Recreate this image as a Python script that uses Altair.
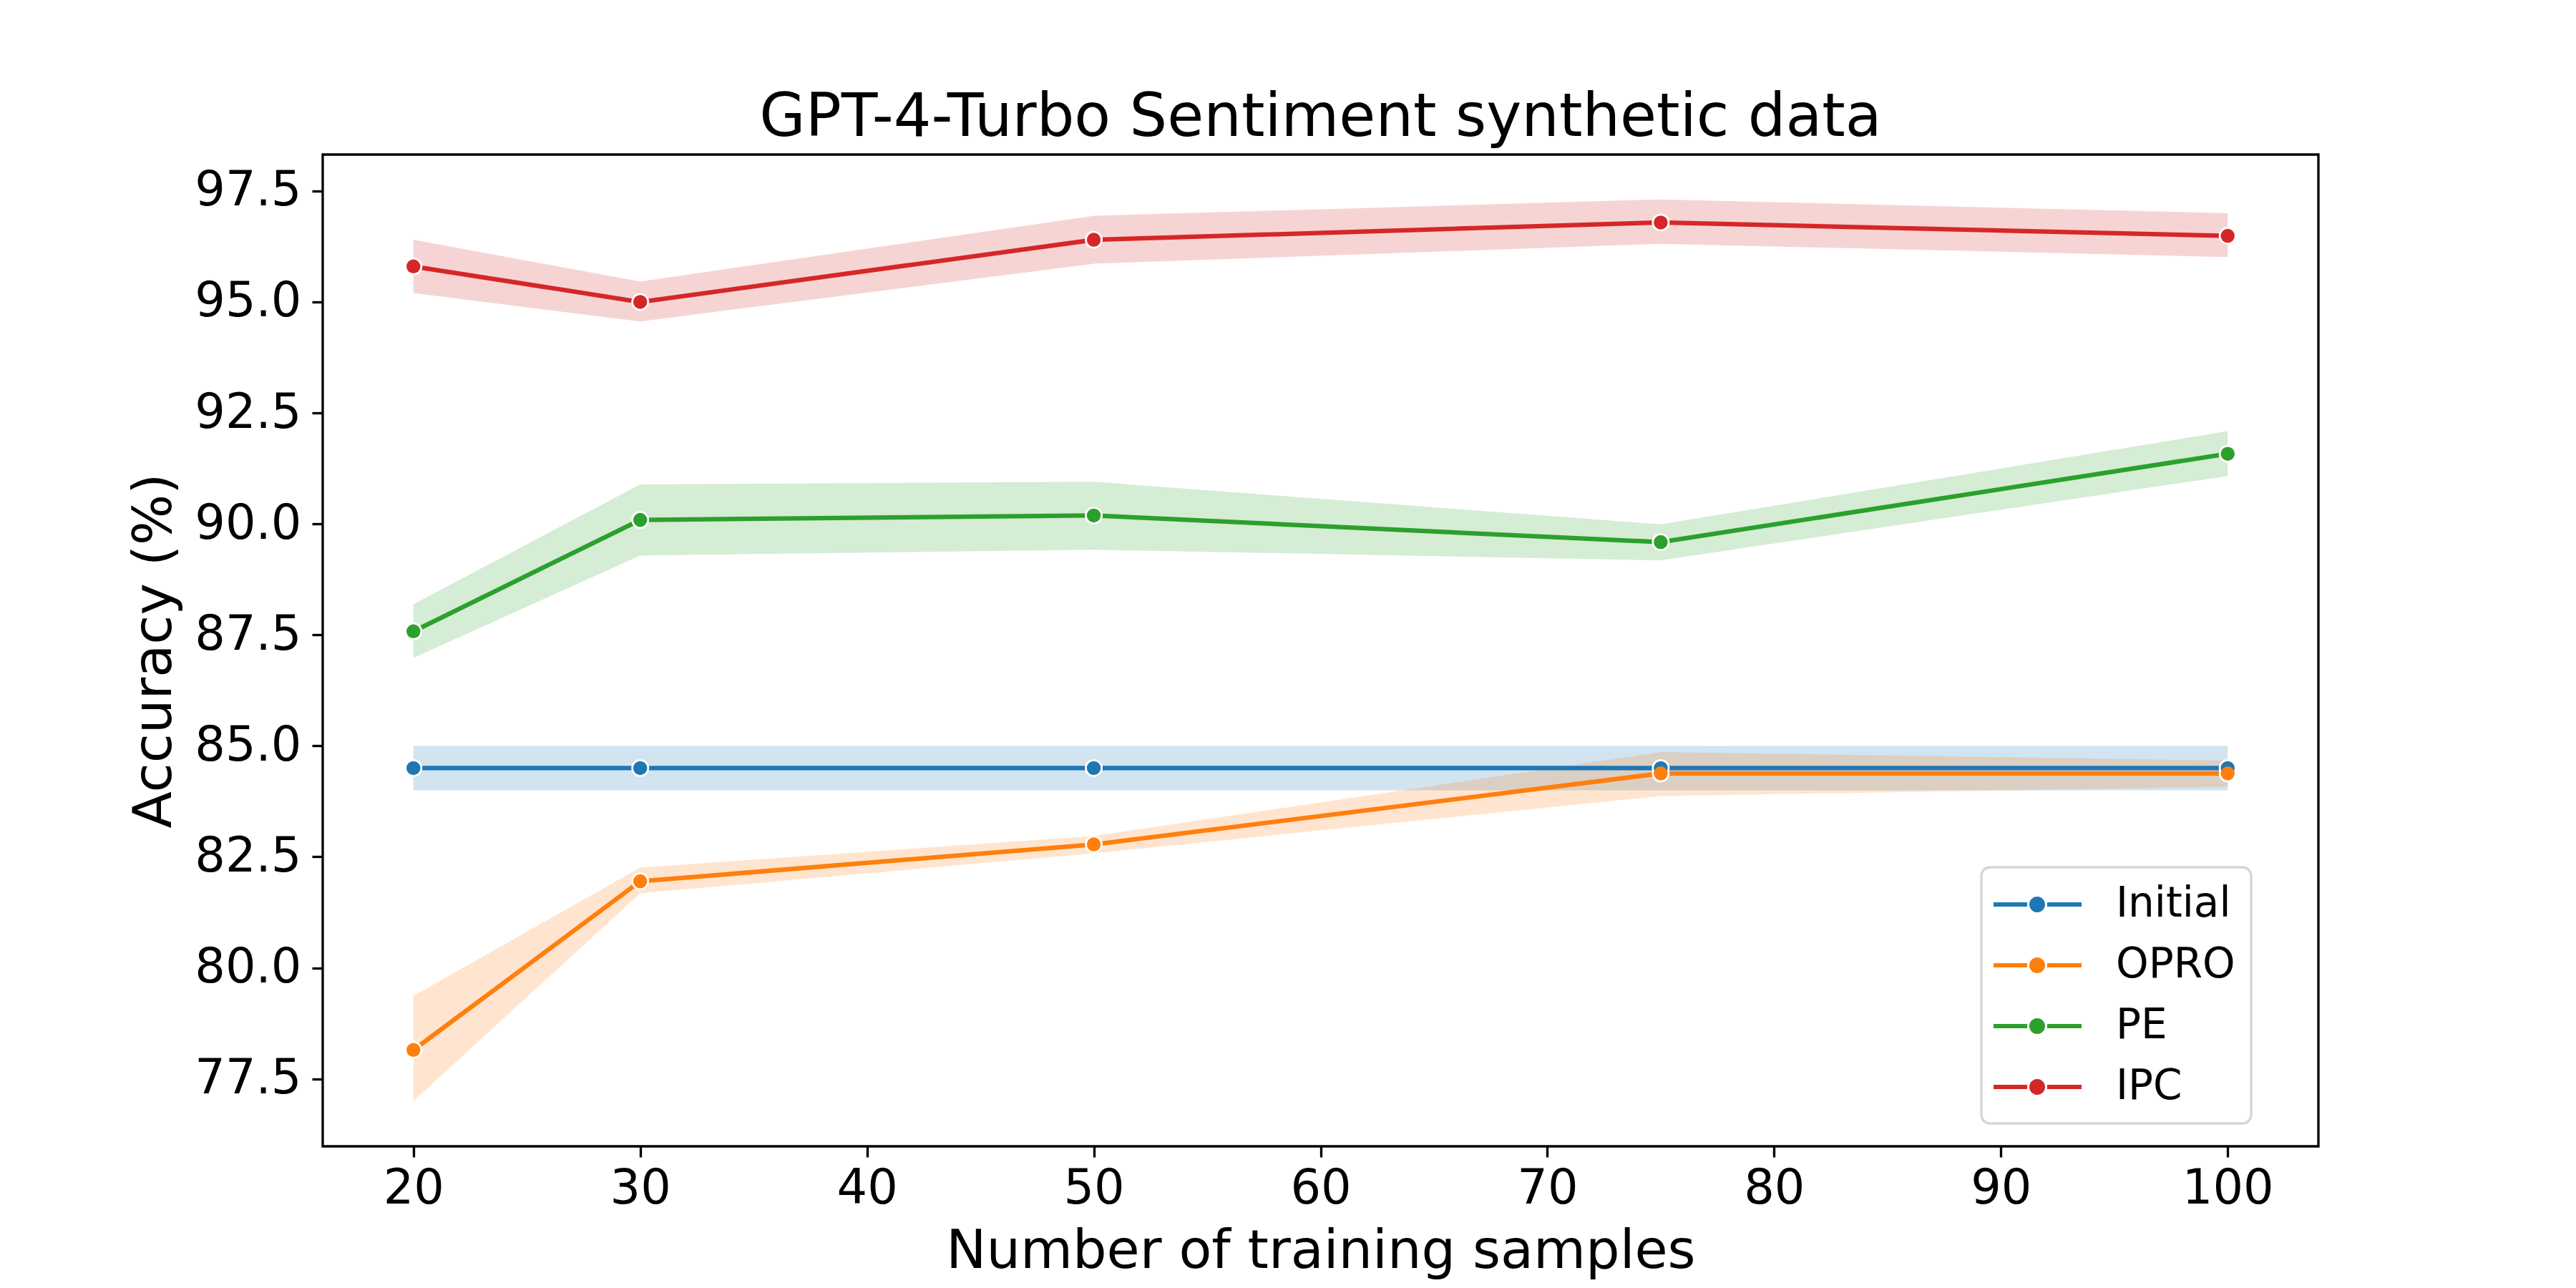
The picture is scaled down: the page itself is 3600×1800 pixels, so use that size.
import altair as alt
import pandas as pd

# ---- data ----
samples = [20, 30, 50, 75, 100]
series_names = ["Initial", "OPRO", "PE", "IPC"]
series_colors = ["#1f77b4", "#ff7f0e", "#2ca02c", "#d62728"]

initial_mean = [84.5, 84.5, 84.5, 84.5, 84.5]
initial_lo = [84.0, 84.0, 84.0, 84.0, 84.0]
initial_hi = [85.0, 85.0, 85.0, 85.0, 85.0]

opro_mean = [78.15, 81.95, 82.78, 84.38, 84.38]
opro_lo = [77.0, 81.68, 82.58, 83.87, 84.08]
opro_hi = [79.37, 82.26, 82.97, 84.86, 84.67]

pe_mean = [87.58, 90.09, 90.19, 89.59, 91.58]
pe_lo = [86.98, 89.29, 89.42, 89.18, 91.08]
pe_hi = [88.19, 90.89, 90.95, 89.99, 92.09]

ipc_mean = [95.8, 95.0, 96.4, 96.79, 96.49]
ipc_lo = [95.2, 94.56, 95.86, 96.31, 96.01]
ipc_hi = [96.4, 95.46, 96.94, 97.31, 97.0]

x_ticks = [20, 30, 40, 50, 60, 70, 80, 90, 100]
y_ticks = [77.5, 80.0, 82.5, 85.0, 87.5, 90.0, 92.5, 95.0, 97.5]

means = [initial_mean, opro_mean, pe_mean, ipc_mean]
los = [initial_lo, opro_lo, pe_lo, ipc_lo]
his = [initial_hi, opro_hi, pe_hi, ipc_hi]

rows = []
for k, name in enumerate(series_names):
    for i, xv in enumerate(samples):
        rows.append({"series": name, "order": k, "x": xv,
                     "mean": means[k][i], "lo": los[k][i], "hi": his[k][i]})
df = pd.DataFrame(rows)

FONT = "DejaVu Sans"

xscale = alt.Scale(domain=[16, 104], nice=False, zero=False)
yscale = alt.Scale(domain=[75.98, 98.32], nice=False, zero=False)
cscale = alt.Scale(domain=series_names, range=series_colors)

xenc = alt.X("x:Q", scale=xscale,
             axis=alt.Axis(values=x_ticks, title="Number of training samples",
                           titleY=169, titleBaseline="alphabetic",
                           labelPadding=11))
yenc = alt.Y("mean:Q", scale=yscale,
             axis=alt.Axis(values=y_ticks, format=".1f", title="Accuracy (%)",
                           titleX=-213, titleBaseline="alphabetic",
                           labelPadding=15))

base = alt.Chart(df)

band = base.mark_area(opacity=0.2, strokeWidth=0).encode(
    x=xenc,
    y=alt.Y("hi:Q", scale=yscale),
    y2=alt.Y2("lo:Q"),
    color=alt.Color("series:N", scale=cscale, legend=None),
    order=alt.Order("order:Q"),
)

line = base.mark_line(strokeWidth=6.25).encode(
    x=xenc,
    y=yenc,
    color=alt.Color("series:N", scale=cscale, legend=None),
    order=alt.Order("x:Q"),
)

white_pts = base.mark_circle(opacity=1, color="white", size=620).encode(
    x=xenc, y=yenc,
)

legend_path = ("M-1.167,-0.104 H0.4 V0.104 H-1.167 Z "
               "M1.333,-0.104 H2.933 V0.104 H1.333 Z "
               "M0.5,0 A0.367,0.367 0 1,0 1.234,0 A0.367,0.367 0 1,0 0.5,0 Z")

pts = base.mark_circle(opacity=1, size=380).encode(
    x=xenc, y=yenc,
    color=alt.Color("series:N", scale=cscale,
                    legend=alt.Legend(
                        title=None, orient="none", legendX=2318, legendY=996,
                        symbolType=legend_path, symbolSize=3600,
                        symbolStrokeWidth=0, symbolOpacity=1,
                        labelFont=FONT, labelFontSize=58, labelColor="black",
                        labelOffset=106, labelLimit=600, rowPadding=26,
                        padding=22, fillColor="rgba(255,255,255,0.8)",
                        strokeColor="#d6d6d6", cornerRadius=12)),
)

chart = alt.layer(band, line, white_pts, pts).resolve_legend(
    color="independent"
).properties(
    width=2789, height=1386,
    padding={"left": 443, "top": 208, "right": 352, "bottom": 190},
    autosize=alt.AutoSizeParams(type="none"),
    background="white",
    title=alt.TitleParams("GPT-4-Turbo Sentiment synthetic data", font=FONT,
                          fontSize=83, fontWeight="normal", color="black",
                          anchor="middle", baseline="alphabetic", offset=25,
                          dy=82),
).configure_view(
    stroke="black", strokeWidth=3.33
).configure_axis(
    grid=False, domain=False, ticks=True, tickColor="black", tickWidth=3.33,
    tickSize=15, labelFont=FONT, labelFontSize=67, labelColor="black",
    titleFont=FONT, titleFontSize=75, titleFontWeight="normal",
    titleColor="black",
).configure_legend(
    strokeWidth=3.33
)

chart.save("out.html", embed_options={"renderer": "svg", "actions": False})
